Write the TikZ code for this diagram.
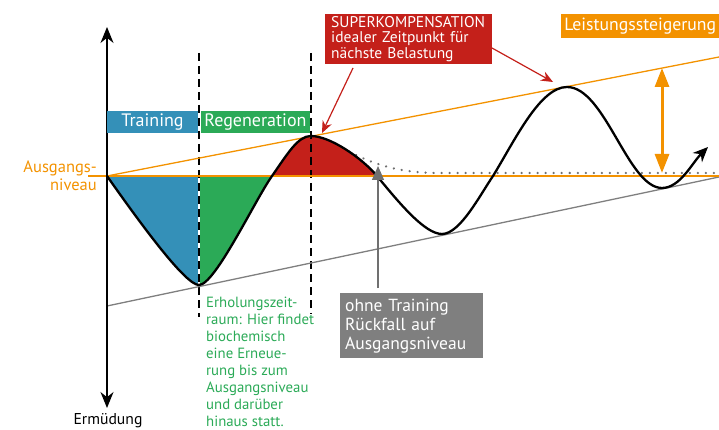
\documentclass[tikz,border=0pt]{standalone}
\usepackage{fontspec}
\setmainfont{PT Sans}
\usetikzlibrary{arrows.meta}
\definecolor{tblue}{HTML}{3490B8}
\definecolor{tgreen}{HTML}{2BAA57}
\definecolor{tred}{HTML}{C4201A}
\definecolor{torange}{HTML}{F39200}
\definecolor{tgray}{HTML}{7F7F7F}
\definecolor{tdgray}{HTML}{707070}
\tikzset{
  phasebox/.style={fill=#1, text=white, inner sep=0pt, minimum height=22pt, font=\fontsize{18}{20}\selectfont},
  dashline/.style={black, line width=2pt, dash pattern=on 8pt off 5pt},
  curveline/.style={black, line width=2.3pt, line join=round},
  redarrow/.style={tred, line width=1.2pt, -{Stealth[length=12pt,width=10pt]}},
  lbl/.style={inner sep=0pt, align=left, anchor=north west}
}
\begin{document}
\begin{tikzpicture}[x=1pt,y=-1pt]
\useasboundingbox (0,0) rectangle (719,430);
% fills
\begin{scope}
  \clip (107,170) rectangle (199,300);
  \fill[tblue] (107,176) .. controls (145,230) and (186,285) .. (199,285) .. controls (215,285) and (255,200) .. (272,176) -- cycle;
\end{scope}
\begin{scope}
  \clip (199,170) rectangle (280,300);
  \fill[tgreen] (107,176) .. controls (145,230) and (186,285) .. (199,285) .. controls (215,285) and (255,200) .. (272,176) -- cycle;
\end{scope}
\fill[tred] (272,176) .. controls (288,153) and (298,136) .. (311,136) .. controls (330,136) and (362,158) .. (377,176) -- cycle;
% dotted decay
\draw[tdgray, line width=2.5pt, dash pattern=on 0.01pt off 8pt, line cap=round] (349,151.5) .. controls (375,165) and (400,173) .. (440,173) -- (719,173);
% dashed lines
\coordinate (d1t) at (199,53); \coordinate (d1b) at (199,317);
\coordinate (d2t) at (311,53); \coordinate (d2b) at (311,314);
\draw[white, line width=2pt] (199,176) -- (199,285);
\draw[dashline] (d1t) -- (d1b);
\draw[dashline] (d2t) -- (d2b);
% trend lines
\coordinate (o0) at (107,176); \coordinate (o1) at (719,57);
\coordinate (g0) at (107,306); \coordinate (g1) at (719,177);
\draw[torange, line width=1.3pt] (o0) -- (o1);
\draw[tgray, line width=1.3pt] (g0) -- (g1);
\coordinate (b0) at (88,176); \coordinate (b1) at (719,176);
\draw[torange, line width=2.7pt] (b0) -- (b1);
% axis
\coordinate (axt) at (107,27); \coordinate (axb) at (107,408);
\draw[black, line width=1.7pt, {Stealth[length=16pt,width=13pt]}-{Stealth[length=16pt,width=13pt]}] (axt) -- (axb);
% curve
\draw[curveline, -{Stealth[length=15pt,width=13pt]}] (107,176) .. controls (145,230) and (186,285) .. (199,285)
  .. controls (215,285) and (255,200) .. (272,176)
  .. controls (288,153) and (298,136) .. (311,136)
  .. controls (330,136) and (362,158) .. (377,176)
  .. controls (400,204) and (425,234) .. (442,234)
  .. controls (460,234) and (480,195) .. (493,176)
  .. controls (515,140) and (540,87) .. (567,87)
  .. controls (605,87) and (628,188) .. (662,188)
  .. controls (680,188) and (692,163) .. (708,147);
% phase boxes
\node[phasebox=tblue, minimum width=91pt] (train) at (152.5,122) {Training};
\node[phasebox=tgreen, minimum width=109pt] (regen) at (255.5,122) {Regeneration};
% superkompensation box
\node[fill=tred, text=white, lbl, minimum width=163pt, minimum height=47pt, text width=155pt, inner xsep=6pt, inner ysep=2pt, font=\fontsize{15.5}{15.5}\selectfont] (sup) at (325,14) {SUPERKOMPENSATION\\idealer Zeitpunkt für\\nächste Belastung};
\coordinate (s1) at (353,68); \coordinate (p1) at (322,133);
\coordinate (s2) at (492,48); \coordinate (p2) at (553,82);
\draw[redarrow] (s1) -- (p1);
\draw[redarrow] (s2) -- (p2);
% Leistungssteigerung
\node[fill=torange, text=white, lbl, minimum width=158pt, minimum height=24pt, inner xsep=3pt, inner ysep=0pt, text height=13pt, text depth=4pt, font=\fontsize{17.7}{20}\selectfont] (leist) at (561,14) {Leistungssteigerung};
\coordinate (la) at (662,68); \coordinate (lb) at (662,173);
\draw[torange, line width=3pt, {Triangle[length=19pt,width=14pt]}-{Triangle[length=19pt,width=14pt]}] (la) -- (lb);
% ohne Training
\node[fill=tgray, text=white, lbl, minimum width=139pt, minimum height=65pt, text width=133pt, inner xsep=5pt, inner ysep=3pt, font=\fontsize{17.5}{19}\selectfont] (ohne) at (340,293) {ohne Training\\Rückfall auf\\Ausgangsniveau};
\coordinate (ga) at (378,288); \coordinate (gb) at (378,166);
\draw[tdgray, line width=1.3pt, -{Triangle[length=14pt,width=12pt]}] (ga) -- (gb);
% texts
\node[torange, inner sep=0pt, align=right, anchor=east, font=\fontsize{16.5}{18}\selectfont] (ausg) at (97,176) {Ausgangs-\\niveau};
\node[black, inner sep=0pt, font=\fontsize{15.7}{18}\selectfont] (erm) at (108,421) {Ermüdung};
\node[tgreen, lbl, font=\fontsize{14.8}{17}\selectfont] (erh) at (206,297) {Erholungszeit-\\raum: Hier findet\\biochemisch\\eine Erneue-\\rung bis zum\\Ausgangsniveau\\und darüber\\hinaus statt.};
\end{tikzpicture}
\end{document}
